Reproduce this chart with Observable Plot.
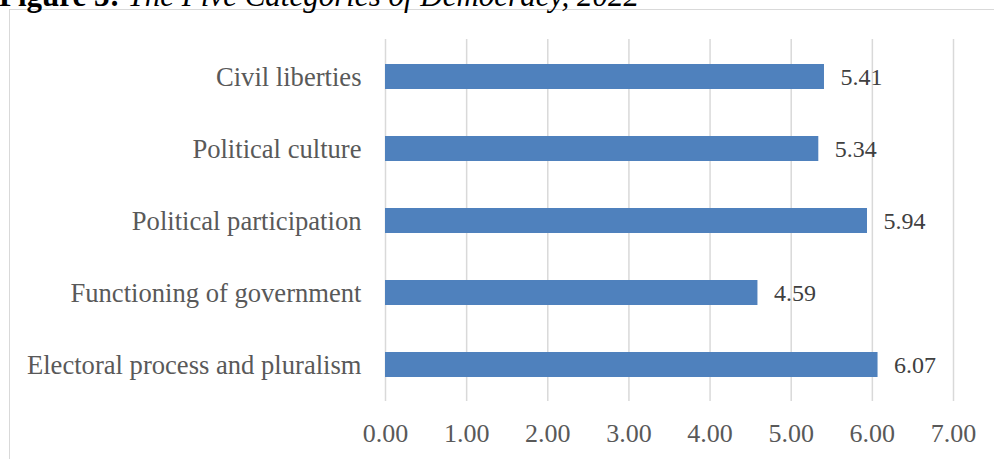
<!DOCTYPE html>
<html>
<head>
<meta charset="utf-8">
<script src="https://cdn.jsdelivr.net/npm/d3@7"></script>
<script src="https://cdn.jsdelivr.net/npm/@observablehq/plot@0.6"></script>
<style>
  html, body { margin: 0; padding: 0; background: #fff; }
  body { width: 994px; height: 459px; overflow: hidden; position: relative; }
  #title { position: absolute; left: -1px; top: -20px; font-family: "Liberation Serif", "Times New Roman", serif; font-size: 31px; line-height: 31px; color: #000; white-space: nowrap; }
  #frame { position: absolute; left: 9px; top: 9px; width: 1100px; height: 600px; border: 1px solid #d9d9d9; box-sizing: border-box; }
  #chart { position: absolute; left: 0; top: 0; }
</style>
</head>
<body>
<div id="frame"></div>
<div id="title"><b>Figure 3:</b> <i>The Five Categories of Democracy, 2022</i></div>
<div id="chart"></div>
<script>
const categories = [
  "Civil liberties",
  "Political culture",
  "Political participation",
  "Functioning of government",
  "Electoral process and pluralism"
];
const scores = [5.41, 5.34, 5.94, 4.59, 6.07];
const xTicks = [0, 1, 2, 3, 4, 5, 6, 7];

const data = categories.map((c, i) => ({category: c, score: scores[i]}));

const chart = Plot.plot({
  width: 994,
  height: 459,
  marginLeft: 385,
  marginRight: 41,
  marginTop: 39,
  marginBottom: 58,
  style: {fontFamily: "'Liberation Serif', 'Times New Roman', serif", background: "transparent", color: "#595959"},
  x: {domain: [0, 7], ticks: xTicks, tickFormat: d3.format(".2f")},
  y: {domain: categories, paddingInner: 0.655, paddingOuter: 0.324},
  marks: [
    Plot.gridX(xTicks, {stroke: "#d9d9d9", strokeOpacity: 1, strokeWidth: 1.5}),
    Plot.barX(data, {x: "score", y: "category", fill: "#4F81BD"}),
    Plot.text(data, {x: "score", y: "category", text: d => d3.format(".2f")(d.score), textAnchor: "start", dx: 16, fontSize: 24, fill: "#404040"}),
    Plot.axisX({ticks: xTicks, tickFormat: d3.format(".2f"), tickSize: 0, tickPadding: 22, fontSize: 26, label: null, fill: "#595959"}),
    Plot.axisY({tickSize: 0, tickPadding: 24, fontSize: 26.6, label: null, fill: "#595959"})
  ]
});
document.getElementById("chart").appendChild(chart);
</script>
</body>
</html>
